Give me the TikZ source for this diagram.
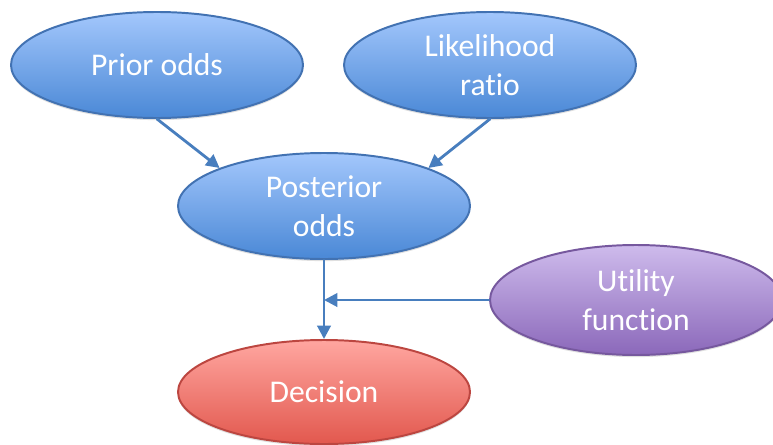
\documentclass[tikz,border=0pt]{standalone}
\usepackage{fontspec}
\setmainfont{Carlito}[Ligatures=NoCommon]
\usetikzlibrary{arrows.meta,shapes.geometric,shadows}

\definecolor{bluetop}{RGB}{163,199,252}
\definecolor{bluebot}{RGB}{74,136,214}
\definecolor{blueline}{RGB}{66,114,178}
\definecolor{purpletop}{RGB}{206,187,236}
\definecolor{purplebot}{RGB}{139,104,186}
\definecolor{purpleline}{RGB}{118,88,158}
\definecolor{redtop}{RGB}{255,166,160}
\definecolor{redbot}{RGB}{226,88,78}
\definecolor{redline}{RGB}{188,70,64}
\definecolor{linkblue}{RGB}{72,126,190}

\tikzset{
  oval/.style={ellipse, inner sep=0pt, minimum width=7.3cm, minimum height=2.65cm,
    line width=1.4pt, text=white, align=center,
    font=\fontsize{22.5}{28}\selectfont,
    drop shadow={shadow xshift=0pt, shadow yshift=-1.5pt, opacity=0.25}},
  bluenode/.style={oval, draw=blueline, top color=bluetop, bottom color=bluebot},
  purplenode/.style={oval, draw=purpleline, top color=purpletop, bottom color=purplebot},
  rednode/.style={oval, draw=redline, top color=redtop, bottom color=redbot},
  link/.style={draw=linkblue, line width=2pt, -{Triangle[length=9.5pt,width=9.5pt]}}
}

\begin{document}
\begin{tikzpicture}[line cap=round,line join=round,x=1.0cm,y=1.0cm]
\useasboundingbox (0,0) rectangle (19.325,11.1);

% the odds and the evidence
\node[bluenode] (prior) at (3.925, 9.475) {Prior odds};
\node[bluenode] (lr) at (12.25, 9.475) {Likelihood\\ratio};
\node[bluenode] (post) at (8.1, 5.95) {Posterior\\odds};

% what the decision rests on
\node[purplenode, minimum height=2.75cm] (util) at (15.9, 3.6) {Utility\\function};
\node[rednode, minimum height=2.6cm] (dec) at (8.1, 1.3) {Decision};

\coordinate (join) at (post.south |- util.west);

\draw[link] (prior.south) -- (post.160);
\draw[link] (lr.south) -- (post.20);
\draw[link] (post.south) -- (dec.north);
\draw[link] (util.west) -- (join);
\end{tikzpicture}
\end{document}
